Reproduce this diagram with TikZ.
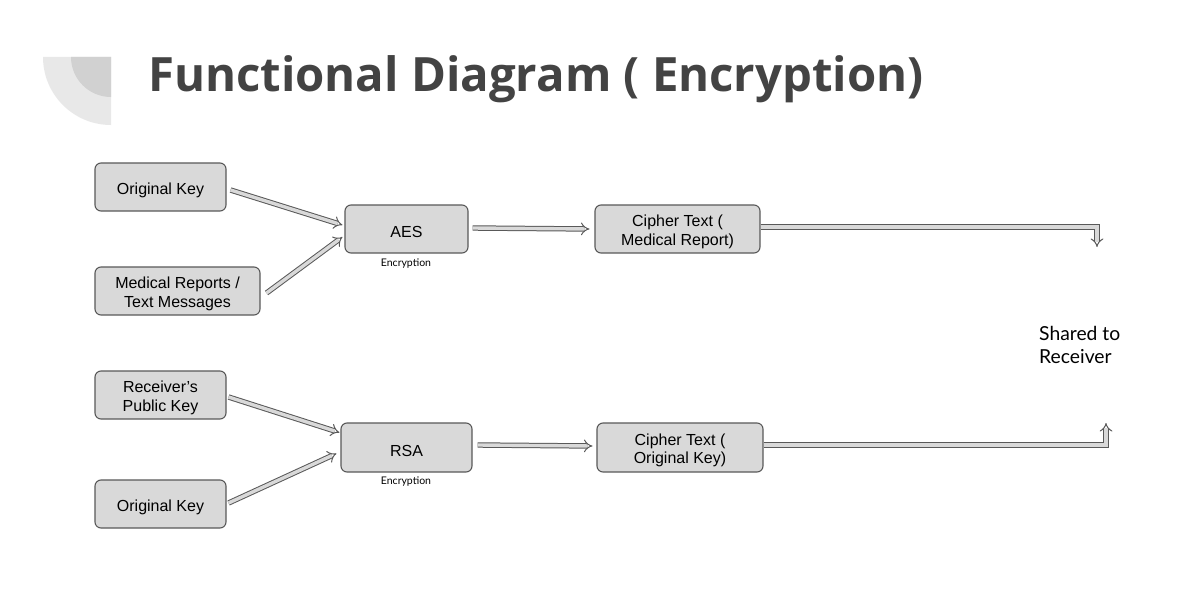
\documentclass[tikz,border=0pt]{standalone}
\usepackage{fontspec}
\setmainfont{Liberation Sans}
\newfontfamily\titlefont{Open Sans}
\newfontfamily\labelfont{Lato}
\usetikzlibrary{arrows.meta}
\definecolor{boxfill}{HTML}{D9D9D9}
\definecolor{boxdraw}{HTML}{595959}
\definecolor{titlecol}{HTML}{434343}
\tikzset{
  box/.style={draw=boxdraw, fill=boxfill, rounded corners=6pt, line width=1.1pt,
    inner sep=0pt, label={[boxtext]center:{#1}}},
  boxtext/.style={align=center, inner sep=0pt, yshift=-3pt, font=\fontsize{16}{18.5}\selectfont},
  flow/.style={draw=boxdraw, double=boxfill, double distance=3.4pt, line width=1pt,
    -{Implies[length=6pt]}, line join=miter},
  small/.style={font=\labelfont\fontsize{10.5}{12}\selectfont, text=black}
}
\begin{document}
\begin{tikzpicture}[x=1pt,y=-1pt]
\useasboundingbox (0,0) rectangle (1189,602);
\fill[white] (0,0) rectangle (1189,602);
% decoration
\fill[black!9] (43,57) arc[start angle=180,end angle=90,radius=68] -- (111,57) -- cycle;
\fill[black!18] (71,57) arc[start angle=180,end angle=90,radius=40] -- (111,57) -- cycle;
\node[anchor=base west, inner sep=0pt, text=titlecol, font=\titlefont\bfseries\fontsize{47.3}{56}\selectfont] (title) at (148,91.5) {Functional Diagram ( Encryption)};
% nodes
\node[box={Original Key}, minimum width=131pt, minimum height=48pt] (ok1) at (160.5,187) {};
\node[box={Medical Reports /\\Text Messages}, minimum width=165pt, minimum height=48pt] (med) at (177.5,291) {};
\node[box={AES}, minimum width=123pt, minimum height=48pt] (aes) at (406.5,229) {};
\node[small] (enc1) at (406,264) {Encryption};
\node[box={Cipher Text (\\Medical Report)}, minimum width=165pt, minimum height=48pt] (ct1) at (677.5,229) {};
\node[box={Receiver’s\\Public Key}, minimum width=131pt, minimum height=48pt] (pub) at (160.5,395) {};
\node[box={Original Key}, minimum width=131pt, minimum height=48pt] (ok2) at (160.5,504) {};
\node[box={RSA}, minimum width=131pt, minimum height=49pt] (rsa) at (406.5,447.5) {};
\node[small] (enc2) at (406,482) {Encryption};
\node[box={Cipher Text (\\Original Key)}, minimum width=166pt, minimum height=49pt] (ct2) at (680,447.5) {};
\node[anchor=north west, inner sep=0pt, align=left, font=\labelfont\fontsize{19.3}{23}\selectfont] (shared) at (1039,326) {Shared to\\Receiver};
% connectors
\coordinate (c1) at (1097,227);
\coordinate (e1) at (1097,247);
\coordinate (c2) at (1106,445);
\coordinate (e2) at (1106,423);
\draw[flow] ([shift={(4,3)}]ok1.east) -- ([shift={(-2,-4)}]aes.west);
\draw[flow] ([shift={(6,2)}]med.east) -- ([shift={(-2,8)}]aes.west);
\draw[flow] ([shift={(4,-1)}]aes.east) -- ([shift={(-5,0)}]ct1.west);
\draw[flow] (ct1.east |- c1) -- (c1) -- (e1);
\draw[flow] ([shift={(2,2)}]pub.east) -- ([shift={(-1,-15)}]rsa.west);
\draw[flow] ([shift={(2,-1)}]ok2.east) -- ([shift={(-4,6)}]rsa.west);
\draw[flow] ([shift={(5,-2.5)}]rsa.east) -- ([shift={(-4,-1.5)}]ct2.west);
\draw[flow] (ct2.east |- c2) -- (c2) -- (e2);
\end{tikzpicture}
\end{document}
